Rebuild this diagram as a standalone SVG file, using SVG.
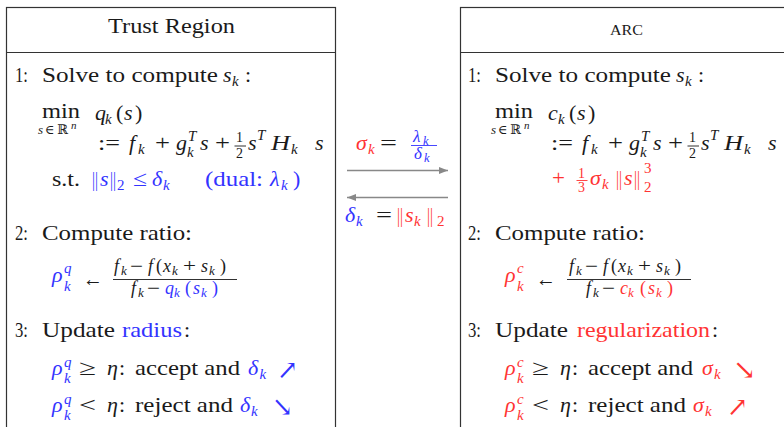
<svg xmlns="http://www.w3.org/2000/svg" width="784" height="427" viewBox="0 0 784 427">
<defs>
<style>
.tx{font-family:"Liberation Serif","DejaVu Serif",serif;font-size:22px;fill:#1a1a1a}
.i{font-style:italic}
.sm{font-size:15px}
.xs{font-size:12.5px}
.fx{font-size:13px}
.u{font-size:13px}
.f{font-size:18px}
.d{font-size:14px}
.b{fill:#3333ff}
.r{fill:#ff3333}
.ar{font-family:"DejaVu Serif","DejaVu Sans",serif;font-size:27px}
.box{fill:none;stroke:#333;stroke-width:1.2}
.rule{stroke:#1a1a1a;stroke-width:0.9}
.conn{stroke:#888;stroke-width:1.3;fill:none}
</style>
<marker id="ah" viewBox="0 0 9 8" markerWidth="9" markerHeight="8" refX="9" refY="4" orient="auto" markerUnits="userSpaceOnUse"><path d="M0,0.5L9,4L0,7.5z" fill="#888"/></marker>
</defs>
<rect width="784" height="427" fill="#fff"/>

<g id="node-trust-region" class="tx">
<rect class="box" x="6.5" y="7.5" width="329" height="440"/>
<line class="box" x1="6.5" y1="52.5" x2="335.5" y2="52.5"/>
<text x="108" y="33" font-size="21" textLength="127" lengthAdjust="spacingAndGlyphs">Trust Region</text>
<text x="15" y="82" textLength="13" lengthAdjust="spacingAndGlyphs">1:</text>
<text x="42" y="82" textLength="176" lengthAdjust="spacingAndGlyphs">Solve to compute</text>
<text class="i" x="223" y="82">s</text><text class="i sm" x="232" y="86">k</text><text x="245" y="82">:</text>
<text x="42" y="118" textLength="38" lengthAdjust="spacingAndGlyphs">min</text>
<text class="u" y="134"><tspan class="i" x="38">s</tspan><tspan x="45">∈</tspan><tspan x="57">ℝ</tspan><tspan class="i" x="71" y="129" font-size="11">n</tspan></text>
<text class="i" x="95" y="120">q</text><text class="i sm" x="105" y="124">k</text><text x="116" y="120">(</text><text class="i" x="124" y="120">s</text><text x="135" y="120">)</text>
<text x="98" y="150" textLength="22" lengthAdjust="spacingAndGlyphs">:=</text>
<text class="i" x="129" y="150">f</text><text class="i sm" x="138" y="154">k</text>
<text x="155" y="150" textLength="15" lengthAdjust="spacingAndGlyphs">+</text>
<text class="i" x="176" y="150">g</text><text class="i sm" x="188" y="141">T</text><text class="i sm" x="187" y="157">k</text>
<text class="i" x="200" y="150">s</text>
<text x="215" y="150" textLength="15" lengthAdjust="spacingAndGlyphs">+</text>
<text class="d" x="236" y="142">1</text><line class="rule" x1="234.5" y1="146" x2="246" y2="146"/><text class="d" x="236" y="158">2</text>
<text class="i" x="248" y="150">s</text><text class="i sm" x="257" y="140">T</text>
<text class="i" x="271" y="150" textLength="19" lengthAdjust="spacingAndGlyphs">H</text><text class="i sm" x="291" y="154">k</text>
<text class="i" x="315" y="150">s</text>
<text x="52" y="186" textLength="28" lengthAdjust="spacingAndGlyphs">s.t.</text>
<text class="b" x="92" y="186" textLength="6" lengthAdjust="spacingAndGlyphs">||</text><text class="i b" x="100" y="186">s</text><text class="b" x="110" y="186" textLength="6" lengthAdjust="spacingAndGlyphs">||</text><text class="sm b" x="117" y="190">2</text>
<text class="b" x="133" y="186" textLength="14" lengthAdjust="spacingAndGlyphs">≤</text>
<text class="i b" x="152" y="186">δ</text><text class="i sm b" x="163" y="190">k</text>
<text class="b" x="205" y="186" textLength="58" lengthAdjust="spacingAndGlyphs">(dual:</text>
<text class="i b" x="270" y="186">λ</text><text class="i sm b" x="281" y="190">k</text><text class="b" x="293" y="186">)</text>
<text x="15" y="240" textLength="13" lengthAdjust="spacingAndGlyphs">2:</text>
<text x="42" y="240" textLength="150" lengthAdjust="spacingAndGlyphs">Compute ratio:</text>
<text class="i b" x="52" y="282">ρ</text><text class="i sm b" x="64" y="273">q</text><text class="i sm b" x="64" y="291">k</text>
<text x="83" y="286" textLength="20" lengthAdjust="spacingAndGlyphs">←</text>
<g id="tr-frac">
<text class="f i" x="114" y="272">f</text><text class="i fx" x="121" y="275">k</text>
<text class="f" x="130" y="272" textLength="13" lengthAdjust="spacingAndGlyphs">−</text>
<text class="f i" x="148" y="272">f</text><text class="f" x="156" y="272">(</text>
<text class="f i" x="163" y="272">x</text><text class="i fx" x="172" y="275">k</text>
<text class="f" x="183" y="272" textLength="13" lengthAdjust="spacingAndGlyphs">+</text>
<text class="f i" x="201" y="272">s</text><text class="i fx" x="209" y="275">k</text>
<text class="f" x="220" y="272">)</text>
<line class="rule" x1="113" y1="279.5" x2="237" y2="279.5"/>
<text class="f i" x="131" y="294">f</text><text class="i fx" x="138" y="297">k</text>
<text class="f" x="147" y="294" textLength="13" lengthAdjust="spacingAndGlyphs">−</text>
<text class="f i b" x="165" y="294">q</text><text class="i fx b" x="174" y="297">k</text>
<text class="f b" x="185" y="294">(</text><text class="f i b" x="193" y="294">s</text><text class="i fx b" x="201" y="297">k</text>
<text class="f b" x="212" y="294">)</text>
</g>
<text x="15" y="337" textLength="13" lengthAdjust="spacingAndGlyphs">3:</text>
<text x="42" y="337" textLength="73" lengthAdjust="spacingAndGlyphs">Update</text>
<text class="b" x="122" y="337" textLength="60" lengthAdjust="spacingAndGlyphs">radius</text><text x="184" y="337">:</text>
<text class="i b" x="52" y="375">ρ</text><text class="i sm b" x="64" y="367">q</text><text class="i sm b" x="64" y="383">k</text>
<text x="79" y="375" textLength="17" lengthAdjust="spacingAndGlyphs">≥</text>
<text class="i" x="107" y="375">η</text><text x="119" y="375">:</text>
<text x="135" y="375" textLength="105" lengthAdjust="spacingAndGlyphs">accept and</text>
<text class="i b" x="248" y="375">δ</text><text class="i sm b" x="259.5" y="379">k</text>
<text class="ar b" x="277" y="379" textLength="21" lengthAdjust="spacingAndGlyphs">↗</text>
<text class="i b" x="52" y="412">ρ</text><text class="i sm b" x="64" y="404">q</text><text class="i sm b" x="64" y="420">k</text>
<text x="79" y="412" textLength="17" lengthAdjust="spacingAndGlyphs">&lt;</text>
<text class="i" x="107" y="412">η</text><text x="119" y="412">:</text>
<text x="135" y="412" textLength="98" lengthAdjust="spacingAndGlyphs">reject and</text>
<text class="i b" x="240" y="412">δ</text><text class="i sm b" x="251" y="416">k</text>
<text class="ar b" x="272" y="416" textLength="21" lengthAdjust="spacingAndGlyphs">↘</text>
</g>

<g id="node-arc" class="tx">
<rect class="box" x="460.5" y="7.5" width="340" height="440"/>
<line class="box" x1="460.5" y1="52.5" x2="800" y2="52.5"/>
<text x="610" y="35" font-size="14" textLength="33" lengthAdjust="spacingAndGlyphs">ARC</text>
<g transform="translate(453 0)">
<text x="15" y="82" textLength="13" lengthAdjust="spacingAndGlyphs">1:</text>
<text x="42" y="82" textLength="176" lengthAdjust="spacingAndGlyphs">Solve to compute</text>
<text class="i" x="223" y="82">s</text><text class="i sm" x="232" y="86">k</text><text x="245" y="82">:</text>
<text x="42" y="118" textLength="38" lengthAdjust="spacingAndGlyphs">min</text>
<text class="u" y="134"><tspan class="i" x="38">s</tspan><tspan x="45">∈</tspan><tspan x="57">ℝ</tspan><tspan class="i" x="71" y="129" font-size="11">n</tspan></text>
<text class="i" x="95" y="120">c</text><text class="i sm" x="105" y="124">k</text><text x="116" y="120">(</text><text class="i" x="124" y="120">s</text><text x="135" y="120">)</text>
<text x="98" y="150" textLength="22" lengthAdjust="spacingAndGlyphs">:=</text>
<text class="i" x="129" y="150">f</text><text class="i sm" x="138" y="154">k</text>
<text x="155" y="150" textLength="15" lengthAdjust="spacingAndGlyphs">+</text>
<text class="i" x="176" y="150">g</text><text class="i sm" x="188" y="141">T</text><text class="i sm" x="187" y="157">k</text>
<text class="i" x="200" y="150">s</text>
<text x="215" y="150" textLength="15" lengthAdjust="spacingAndGlyphs">+</text>
<text class="d" x="236" y="142">1</text><line class="rule" x1="234.5" y1="146" x2="246" y2="146"/><text class="d" x="236" y="158">2</text>
<text class="i" x="248" y="150">s</text><text class="i sm" x="257" y="140">T</text>
<text class="i" x="271" y="150" textLength="19" lengthAdjust="spacingAndGlyphs">H</text><text class="i sm" x="291" y="154">k</text>
<text class="i" x="315" y="150">s</text>
<text class="r" x="99" y="185" textLength="13" lengthAdjust="spacingAndGlyphs">+</text>
<text class="d r" x="125" y="178">1</text><line x1="123.5" y1="180.5" x2="134.5" y2="180.5" stroke="#ff3333" stroke-width="0.9"/><text class="d r" x="125" y="192">3</text>
<text class="i r" x="137" y="185">σ</text><text class="i sm r" x="149" y="189">k</text>
<text class="r" x="163" y="185" textLength="6" lengthAdjust="spacingAndGlyphs">||</text><text class="i r" x="171" y="185">s</text><text class="r" x="181" y="185" textLength="6" lengthAdjust="spacingAndGlyphs">||</text>
<text class="sm r" x="191" y="173">3</text><text class="sm r" x="191" y="192">2</text>
<text x="15" y="240" textLength="13" lengthAdjust="spacingAndGlyphs">2:</text>
<text x="42" y="240" textLength="150" lengthAdjust="spacingAndGlyphs">Compute ratio:</text>
<text class="i r" x="52" y="282">ρ</text><text class="i sm r" x="64" y="273">c</text><text class="i sm r" x="64" y="291">k</text>
<text x="83" y="286" textLength="20" lengthAdjust="spacingAndGlyphs">←</text>
<g id="arc-frac" transform="translate(2 0)">
<text class="f i" x="114" y="272">f</text><text class="i fx" x="121" y="275">k</text>
<text class="f" x="130" y="272" textLength="13" lengthAdjust="spacingAndGlyphs">−</text>
<text class="f i" x="148" y="272">f</text><text class="f" x="156" y="272">(</text>
<text class="f i" x="163" y="272">x</text><text class="i fx" x="172" y="275">k</text>
<text class="f" x="183" y="272" textLength="13" lengthAdjust="spacingAndGlyphs">+</text>
<text class="f i" x="201" y="272">s</text><text class="i fx" x="209" y="275">k</text>
<text class="f" x="220" y="272">)</text>
<line class="rule" x1="112" y1="279.5" x2="236" y2="279.5"/>
<text class="f i" x="131" y="294">f</text><text class="i fx" x="138" y="297">k</text>
<text class="f" x="147" y="294" textLength="13" lengthAdjust="spacingAndGlyphs">−</text>
<text class="f i r" x="165" y="294">c</text><text class="i fx r" x="173" y="297">k</text>
<text class="f r" x="185" y="294">(</text><text class="f i r" x="193" y="294">s</text><text class="i fx r" x="201" y="297">k</text>
<text class="f r" x="212" y="294">)</text>
</g>
<text x="15" y="337" textLength="13" lengthAdjust="spacingAndGlyphs">3:</text>
<text x="42" y="337" textLength="73" lengthAdjust="spacingAndGlyphs">Update</text>
<text class="r" x="124" y="337" textLength="133" lengthAdjust="spacingAndGlyphs">regularization</text><text x="259" y="337">:</text>
<text class="i r" x="52" y="375">ρ</text><text class="i sm r" x="64" y="367">c</text><text class="i sm r" x="64" y="383">k</text>
<text x="79" y="375" textLength="17" lengthAdjust="spacingAndGlyphs">≥</text>
<text class="i" x="107" y="375">η</text><text x="119" y="375">:</text>
<text x="135" y="375" textLength="105" lengthAdjust="spacingAndGlyphs">accept and</text>
<text class="i r" x="249" y="375">σ</text><text class="i sm r" x="261" y="379">k</text>
<text class="ar r" x="280" y="379" textLength="23" lengthAdjust="spacingAndGlyphs">↘</text>
<text class="i r" x="52" y="412">ρ</text><text class="i sm r" x="64" y="404">c</text><text class="i sm r" x="64" y="420">k</text>
<text x="79" y="412" textLength="17" lengthAdjust="spacingAndGlyphs">&lt;</text>
<text class="i" x="107" y="412">η</text><text x="119" y="412">:</text>
<text x="135" y="412" textLength="98" lengthAdjust="spacingAndGlyphs">reject and</text>
<text class="i r" x="240" y="412">σ</text><text class="i sm r" x="252" y="416">k</text>
<text class="ar r" x="274" y="416" textLength="21" lengthAdjust="spacingAndGlyphs">↗</text>
</g>
</g>

<g id="connectors">
<line class="conn" x1="347" y1="170.5" x2="448" y2="170.5" marker-end="url(#ah)"/>
<line class="conn" x1="448" y1="197.5" x2="347" y2="197.5" marker-end="url(#ah)"/>
<g class="tx">
<text class="i r" x="356" y="150">σ</text><text class="i sm r" x="368" y="154">k</text>
<text x="380" y="150" textLength="17" lengthAdjust="spacingAndGlyphs">=</text>
<text class="i b" x="413" y="142" font-size="17">λ</text><text class="i xs b" x="423" y="145">k</text>
<line x1="411" y1="145.5" x2="437" y2="145.5" stroke="#3333ff" stroke-width="0.9"/>
<text class="i b" x="414" y="159" font-size="17">δ</text><text class="i xs b" x="424" y="162">k</text>
<text class="i b" x="345" y="222">δ</text><text class="i sm b" x="356" y="226">k</text>
<text x="376" y="222" textLength="16" lengthAdjust="spacingAndGlyphs">=</text>
<text class="r" x="397" y="222" textLength="6" lengthAdjust="spacingAndGlyphs">||</text><text class="i r" x="405" y="222">s</text><text class="i sm r" x="414" y="226">k</text><text class="r" x="427" y="222" textLength="6" lengthAdjust="spacingAndGlyphs">||</text><text class="sm r" x="437" y="226">2</text>
</g>
</g>
</svg>
